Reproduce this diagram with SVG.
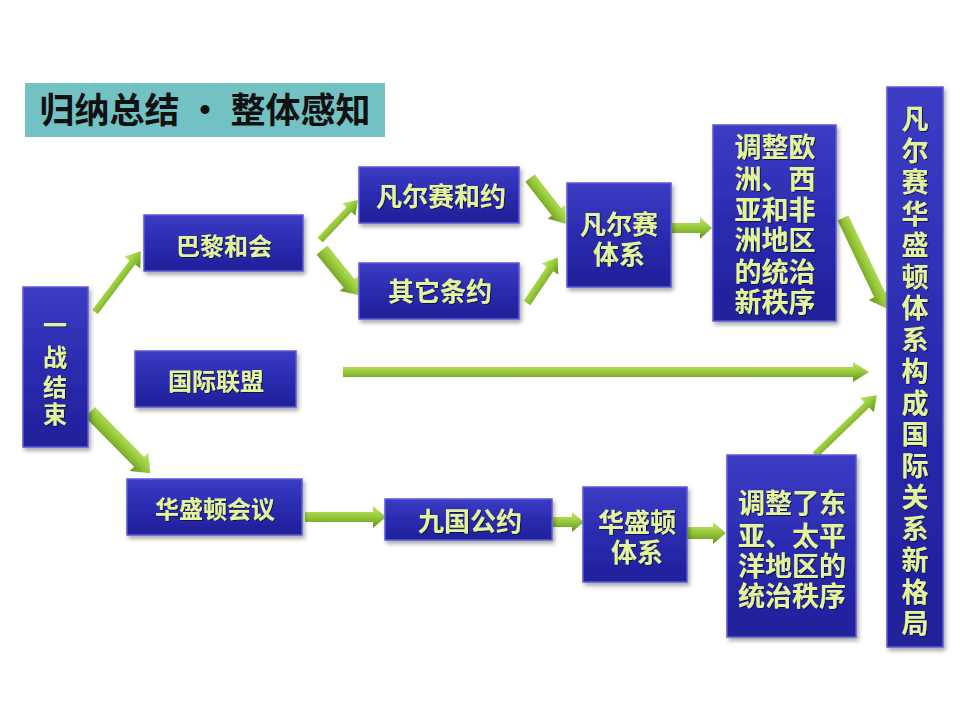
<svg xmlns="http://www.w3.org/2000/svg" width="960" height="720" viewBox="0 0 960 720">
<defs>
  <linearGradient id="boxg" x1="0" y1="0" x2="0" y2="1">
    <stop offset="0" stop-color="#3c3cc4"/>
    <stop offset="0.5" stop-color="#2b2bb0"/>
    <stop offset="1" stop-color="#20209a"/>
  </linearGradient>
  <linearGradient id="arrg" x1="0" y1="0" x2="0" y2="1">
    <stop offset="0" stop-color="#c4e86a"/>
    <stop offset="0.5" stop-color="#96c83a"/>
    <stop offset="1" stop-color="#5f9018"/>
  </linearGradient>
  <filter id="sh" x="-20%" y="-20%" width="140%" height="140%">
    <feDropShadow dx="2" dy="3" stdDeviation="2" flood-color="#000" flood-opacity="0.35"/>
  </filter>
  <filter id="tsh" x="-10%" y="-10%" width="120%" height="130%">
    <feDropShadow dx="1" dy="1" stdDeviation="0.6" flood-color="#0a0a40" flood-opacity="0.9"/>
  </filter>
</defs>
<style>
  .box { fill: url(#boxg); stroke: #5a5ad8; stroke-width: 1.5; filter: url(#sh); }
  .t { font-family: "Noto Sans CJK SC", "Noto Sans", sans-serif; font-weight: 700; fill: #e4f49c; text-anchor: middle; filter: url(#tsh); }
  .arr { fill: url(#arrg); }
</style>
<rect width="960" height="720" fill="#ffffff"/>

<g id="title">
  <rect x="25" y="83" width="360" height="54" fill="#72c2c4"/>
  <text x="205" y="123" font-family="Noto Sans CJK SC, sans-serif" font-weight="700" font-size="35" fill="#111" text-anchor="middle">归纳总结 • 整体感知</text>
</g>

<g id="connectors">
  <path class="arr" transform="translate(95,312) rotate(-53)" d="M0,-3.5 L62,-3.5 L62,-10 L76,0 L62,10 L62,3.5 L0,3.5 Z"/>
  <path class="arr" transform="translate(90,412) rotate(45.5)" d="M0,-7 L70,-7 L70,-13 L86,0 L70,13 L70,7 L0,7 Z"/>
  <path class="arr" transform="translate(320,240) rotate(-46.5)" d="M0,-3.5 L42,-3.5 L42,-9 L55,0 L42,9 L42,3.5 L0,3.5 Z"/>
  <path class="arr" transform="translate(322,250) rotate(51)" d="M0,-7 L43,-7 L43,-12 L58,0 L43,12 L43,7 L0,7 Z"/>
  <path class="arr" transform="translate(530,178) rotate(52)" d="M0,-6 L43,-6 L43,-11 L58,0 L43,11 L43,6 L0,6 Z"/>
  <path class="arr" transform="translate(527,303) rotate(-56)" d="M0,-4 L41,-4 L41,-10 L55,0 L41,10 L41,4 L0,4 Z"/>
  <path class="arr" transform="translate(672,228)" d="M0,-5 L28,-5 L28,-11 L40,0 L28,11 L28,5 L0,5 Z"/>
  <path class="arr" transform="translate(843,218) rotate(64.5)" d="M0,-6 L85,-6 L85,-12 L100,0 L85,12 L85,6 L0,6 Z"/>
  <path class="arr" transform="translate(343,372)" d="M0,-5 L510,-5 L510,-10 L526,0 L510,10 L510,5 L0,5 Z"/>
  <path class="arr" transform="translate(305,517)" d="M0,-5 L68,-5 L68,-11 L81,0 L68,11 L68,5 L0,5 Z"/>
  <path class="arr" transform="translate(553,522)" d="M0,-5 L19,-5 L19,-10 L31,0 L19,10 L19,5 L0,5 Z"/>
  <path class="arr" transform="translate(686,533)" d="M0,-6 L27,-6 L27,-11 L40,0 L27,11 L27,6 L0,6 Z"/>
  <path class="arr" transform="translate(815,455) rotate(-44)" d="M0,-3.5 L72,-3.5 L72,-10 L86,0 L72,10 L72,3.5 L0,3.5 Z"/>
</g>

<g id="n-yizhan">
  <rect class="box" x="23" y="287" width="65" height="160"/>
  <text class="t" font-size="24" x="55" y="334">一</text>
  <text class="t" font-size="24" x="55" y="366">战</text>
  <text class="t" font-size="24" x="55" y="396">结</text>
  <text class="t" font-size="24" x="55" y="423">束</text>
</g>

<g id="n-bali">
  <rect class="box" x="144" y="215" width="159" height="56"/>
  <text class="t" font-size="24" x="224" y="255">巴黎和会</text>
</g>

<g id="n-guolian">
  <rect class="box" x="135" y="351" width="161" height="56"/>
  <text class="t" font-size="24" x="216" y="390">国际联盟</text>
</g>

<g id="n-huahui">
  <rect class="box" x="127" y="479" width="175" height="56"/>
  <text class="t" font-size="24" x="215" y="518">华盛顿会议</text>
</g>

<g id="n-fanheyue">
  <rect class="box" x="359" y="167" width="160" height="56"/>
  <text class="t" font-size="26" x="441" y="206">凡尔赛和约</text>
</g>

<g id="n-qita">
  <rect class="box" x="359" y="263" width="160" height="56"/>
  <text class="t" font-size="26" x="440" y="301">其它条约</text>
</g>

<g id="n-fantixi">
  <rect class="box" x="567" y="183" width="104" height="104"/>
  <text class="t" font-size="26" x="619" y="234">凡尔赛</text>
  <text class="t" font-size="26" x="619" y="264">体系</text>
</g>

<g id="n-tiaozheng1">
  <rect class="box" x="713" y="125" width="123" height="196"/>
  <text class="t" font-size="27" x="775" y="157">调整欧</text>
  <text class="t" font-size="27" x="775" y="189">洲、西</text>
  <text class="t" font-size="27" x="775" y="220">亚和非</text>
  <text class="t" font-size="27" x="775" y="250">洲地区</text>
  <text class="t" font-size="27" x="775" y="282">的统治</text>
  <text class="t" font-size="27" x="775" y="312">新秩序</text>
</g>

<g id="n-jiuguo">
  <rect class="box" x="385" y="499" width="167" height="41"/>
  <text class="t" font-size="26" x="470" y="531">九国公约</text>
</g>

<g id="n-huatixi">
  <rect class="box" x="583" y="487" width="104" height="95"/>
  <text class="t" font-size="26" x="637" y="532">华盛顿</text>
  <text class="t" font-size="26" x="637" y="562">体系</text>
</g>

<g id="n-tiaozheng2">
  <rect class="box" x="727" y="455" width="129" height="182"/>
  <text class="t" font-size="27" x="792" y="513">调整了东</text>
  <text class="t" font-size="27" x="792" y="546">亚、太平</text>
  <text class="t" font-size="27" x="792" y="576">洋地区的</text>
  <text class="t" font-size="27" x="792" y="606">统治秩序</text>
</g>

<g id="n-xingeju">
  <rect class="box" x="887" y="87" width="56" height="560"/>
  <text class="t" font-size="27" x="915" y="129">凡</text>
  <text class="t" font-size="27" x="915" y="161">尔</text>
  <text class="t" font-size="27" x="915" y="192">赛</text>
  <text class="t" font-size="27" x="915" y="224">华</text>
  <text class="t" font-size="27" x="915" y="255">盛</text>
  <text class="t" font-size="27" x="915" y="287">顿</text>
  <text class="t" font-size="27" x="915" y="318">体</text>
  <text class="t" font-size="27" x="915" y="350">系</text>
  <text class="t" font-size="27" x="915" y="381">构</text>
  <text class="t" font-size="27" x="915" y="413">成</text>
  <text class="t" font-size="27" x="915" y="444">国</text>
  <text class="t" font-size="27" x="915" y="476">际</text>
  <text class="t" font-size="27" x="915" y="507">关</text>
  <text class="t" font-size="27" x="915" y="539">系</text>
  <text class="t" font-size="27" x="915" y="570">新</text>
  <text class="t" font-size="27" x="915" y="602">格</text>
  <text class="t" font-size="27" x="915" y="633">局</text>
</g>
</svg>
